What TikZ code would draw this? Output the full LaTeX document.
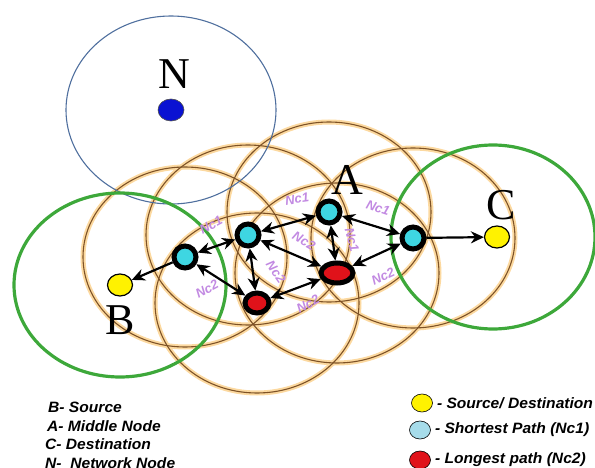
\documentclass[tikz,border=0pt]{standalone}
\usepackage{fontspec}
\setmainfont{Liberation Serif}
\setsansfont{Liberation Sans}
\usepackage{tikz}
\usetikzlibrary{arrows.meta,positioning,backgrounds,shapes.geometric}
\definecolor{ringbrown}{HTML}{7E5226}
\definecolor{ringglow}{HTML}{FCD9A0}
\definecolor{zonegreen}{HTML}{3DA83A}
\definecolor{netblue}{HTML}{4F6F9E}
\definecolor{dotblue}{HTML}{0A12D2}
\definecolor{pathcyan}{HTML}{3ED6E2}
\definecolor{pathred}{HTML}{E0121A}
\definecolor{srcyellow}{HTML}{FFF200}
\definecolor{keycyan}{HTML}{A6DCEA}
\definecolor{lblpurple}{HTML}{C28AE2}
\newcommand{\wide}[1]{\scalebox{1.04}[1]{#1}}
\tikzset{
  hop/.style   = {circle, draw=black, line width=5pt, fill=pathcyan,
                  minimum size=22pt, inner sep=0pt},
  far/.style   = {ellipse, draw=black, line width=5pt, fill=pathred, inner sep=0pt},
  endpt/.style = {ellipse, draw=black, line width=1.2pt, fill=srcyellow,
                  minimum width=25pt, minimum height=22pt, inner sep=0pt},
  keydot/.style= {ellipse, draw=black, line width=0.6pt, minimum width=21pt,
                  minimum height=18pt, inner sep=0pt},
  big/.style   = {font=\fontsize{44}{44}\selectfont, inner sep=0pt},
  nc/.style    = {font=\sffamily\bfseries\itshape\fontsize{13}{13}\selectfont,
                  text=lblpurple, inner sep=0pt},
  key/.style   = {font=\sffamily\bfseries\itshape\fontsize{15}{15}\selectfont,
                  anchor=west, inner sep=0pt},
  ar/.style    = {-{Stealth[length=13pt,width=12pt]}, line width=2.2pt},
  bar/.style   = {{Stealth[length=13pt,width=12pt]}-{Stealth[length=13pt,width=12pt]},
                  line width=2.2pt},
  glow/.style  = {draw=ringglow, line width=5pt},
  ring/.style  = {draw=ringbrown, line width=1.1pt},
  zone/.style  = {draw=zonegreen, line width=3.2pt},
}

\begin{document}
\begin{tikzpicture}[x=1pt, y=-1pt, node distance=4pt]
  \useasboundingbox (0,0) rectangle (595,468);
  % path nodes
  \node[hop] (c1) at (185,257) {};
  \node[hop] (c2) at (248,235) {};
  \node[hop] (a)  at (329,212) {};
  \node[hop] (c4) at (413,238) {};
  \node[far, minimum width=24pt, minimum height=20pt] (r1) at (257,303) {};
  \node[far, minimum width=32pt, minimum height=20pt] (r2) at (337,273) {};
  \node[endpt] (b) at (120,285) {};
  \node[endpt] (c) at (497,237) {};
  \node[ellipse, draw=black!70, line width=0.6pt, fill=dotblue, minimum width=26pt,
        minimum height=22pt, inner sep=0pt] (n) at (171,110) {};
  \node[big] (nlbl) at (174,74) {N};
  \node[big] (albl) at (347,180) {A};
  \node[big] (blbl) at (120,320) {B};
  \node[big] (clbl) at (501,205) {C};

  % radio ranges
  \begin{scope}[on background layer]
    \foreach \p in {c1,c2,a,c4,r1,r2}
      \draw[glow] (\p.center) ellipse [x radius=102pt, y radius=90pt];
    \foreach \p in {c1,c2,a,c4,r1,r2}
      \draw[ring] (\p.center) ellipse [x radius=102pt, y radius=90pt];
    \draw[netblue, line width=1.1pt] (n.center) ellipse [x radius=105pt, y radius=94pt];
    \draw[zone] (b.center) ellipse [x radius=106pt, y radius=92pt];
    \draw[zone] ([xshift=-4pt]c.center) ellipse [x radius=102pt, y radius=92pt];
  \end{scope}

  % links
  \draw[ar]  (c1) -- (b);
  \draw[bar] (c1) -- (c2);
  \draw[bar] (c1) -- (r1);
  \draw[bar] (c2) -- (a);
  \draw[bar] (c2) -- (r1);
  \draw[bar] (c2) -- (r2);
  \draw[bar] (r1) -- (r2);
  \draw[bar] (a) -- (r2);
  \draw[bar] (a) -- (c4);
  \draw[bar] (r2) -- (c4);
  \draw[ar]  (c4) -- (c);

  \node[nc, rotate=28]  (l1) at (211,225) {Nc1};
  \node[nc, rotate=28]  (l2) at (207,289) {Nc2};
  \node[nc, rotate=8]   (l3) at (297,199) {Nc1};
  \node[nc, rotate=-30] (l4) at (304,241) {Nc2};
  \node[nc, rotate=-55] (l5) at (276,272) {Nc2};
  \node[nc, rotate=28]  (l6) at (308,304) {Nc2};
  \node[nc, rotate=-75] (l7) at (352,240) {Nc1};
  \node[nc, rotate=-18] (l8) at (378,208) {Nc1};
  \node[nc, rotate=25]  (l9) at (383,276) {Nc2};

  % legend
  \node[key] (kb) at (48,407) {\wide{B- Source}};
  \node[key] (ka) at (47,426) {\wide{A- Middle Node}};
  \node[key] (kc) at (45,444) {\wide{C- Destination}};
  \node[key] (kn) at (45,463) {\wide{N-~ Network Node}};
  \node[keydot, fill=srcyellow] (ky) at (422,403) {};
  \node[keydot, fill=keycyan]   (kq) at (420,430) {};
  \node[keydot, fill=pathred]   (kr) at (420,460) {};
  \node[key, right=of ky] (kyt) {\wide{- Source/ Destination}};
  \node[key, right=of kq] (kqt) {\wide{- Shortest Path (Nc1)}};
  \node[key, right=of kr] (krt) {\wide{- Longest path (Nc2)}};
\end{tikzpicture}
\end{document}
